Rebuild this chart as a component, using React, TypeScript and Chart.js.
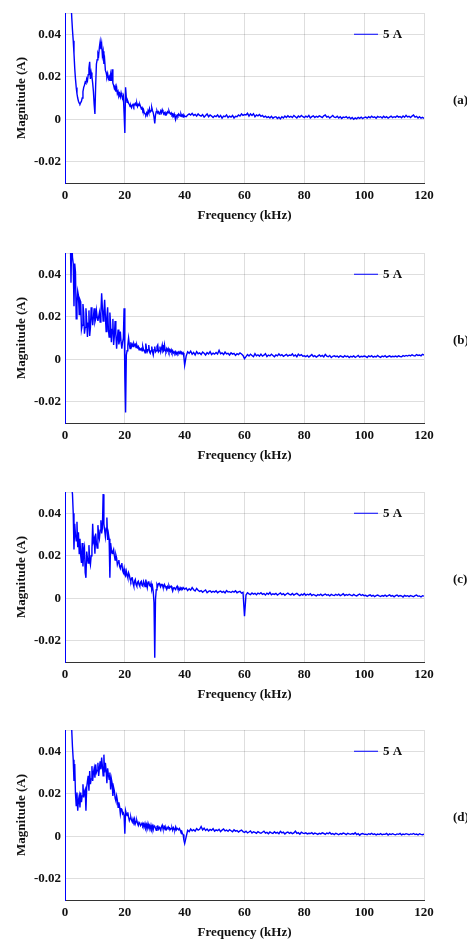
import React, { useEffect, useRef } from "react";
import { Chart, registerables } from "chart.js";

Chart.register(...registerables);

// ---- axis / label data ----
const X_TICKS = [0, 20, 40, 60, 80, 100, 120];
const Y_TICKS = [-0.02, 0, 0.02, 0.04];
const Y_MIN = -0.03;
const Y_MAX = 0.05;
const X_TITLE = "Frequency (kHz)";
const Y_TITLE = "Magnitude (A)";
const SERIES_LABEL = "5 A";
const PANEL_TAGS = ["(a)", "(b)", "(c)", "(d)"];

// FFT bin spacing: 0.25 kHz for 0–40 kHz, 0.5 kHz for 40.5–120 kHz
const HEAD_STEP_KHZ = 0.25;
const TAIL_START_KHZ = 40.5;
const TAIL_STEP_KHZ = 0.5;

// ---- series values, in mA ----
// (a) 0 .. 40 kHz, 0.25 kHz bins (4 per row = 1 kHz)
const A_HEAD = [
  150, 140, 130, 115,
  100, 88, 76, 65,
  56, 48, 42, 37,
  31, 24, 19, 15,
  12, 10, 8.5, 7.6,
  7.2, 7.8, 8.5, 10,
  13, 15, 16, 17.5,
  17, 19, 18, 21,
  24, 27, 19, 22,
  20, 17, 13, 7,
  2.5, 16, 26, 28,
  31, 30, 34, 36.5,
  33, 35.5, 30, 32,
  26, 28, 23, 22,
  20, 21.5, 19, 20,
  18, 21, 18, 23.5,
  17, 16, 14.5, 15.5,
  13, 15, 12, 13,
  11, 12, 10.5, 12.5,
  11, 10, 11, 3,
  -6.5, 15, 10, 8,
  8.5, 7.5, 7, 6,
  6.5, 5.5, 6.5, 7,
  6, 7, 7.5, 6.5,
  7.5, 6, 7, 6.5,
  7, 6, 5, 5.5,
  4, 4.5, 3, 2.5,
  2, 3, 2, 4,
  3, 5, 3.5, 4,
  5.5, 4, 3, 1,
  -2, 2, 3.5, 4,
  3, 3.5, 2.5, 3,
  4, 3, 4.5, 3.5,
  2.5, 3, 2, 3,
  2.5, 3.5, 3, 4,
  3, 2.5, 3, 2,
  2.5, 1.5, 2.5, 1,
  0, 1.5, 2, 1.5,
  2.5, 2, 1.5, 2.5,
  1.5, 2, 1, 2,
  1.5,
];
// (a) 40.5 .. 120 kHz, 0.5 kHz bins (10 per row = 5 kHz)
const A_TAIL = [
  1.2, 2, 2.5, 2, 2.8, 1.8, 2.3, 1.5, 2.5, 1.8,
  1.5, 2.2, 1, 1.8, 2.5, 1.2, 2, 1.5, 0.8, 1.6,
  1.2, 2, 1, 1.8, 0.5, 1.5, 1.2, 2, 0.8, 1.5,
  1, 1.8, 0.6, 1.4, 1.2, 2, 1.5, 2.5, 1.8, 2.2,
  2, 2.8, 1.5, 2.5, 1.8, 2.6, 1.2, 2, 1.6, 2.2,
  1.4, 1.8, 1, 1.5, 0.8, 1.2, 0.6, 1.4, 0.5, 1,
  1.2, 0.4, 1, 0.2, 1.2, 0.6, 1.5, 0.8, 1.6, 1,
  1.4, 0.8, 1.8, 1.2, 0.6, 1.5, 1, 1.8, 1.2, 0.8,
  1.5, 1, 1.8, 0.6, 1.2, 1.6, 0.8, 1.4, 1, 1.6,
  1.2, 0.8, 1.6, 2, 1, 1.4, 0.6, 1.2, 1.8, 1,
  0.8, 1.4, 0.6, 1.2, 0.4, 1, 0.8, 1.2, 0.5, 1,
  0.2, 0.8, 0, 0.6, 0.2, 0.9, 0.4, 1, 0.3, 0.8,
  1, 0.5, 1.2, 0.7, 1.4, 0.8, 1.1, 0.5, 1.3, 0.9,
  1.2, 0.6, 1.4, 0.8, 1.2, 0.5, 1, 1.5, 0.8, 1.2,
  0.9, 1.6, 1, 1.3, 0.7, 1.5, 0.9, 1.8, 1.1, 1.4,
  0.8, 1.5, 2, 1, 1.4, 0.6, 1.2, 0.5, 0.9, 0.4,
];

// (b)
const B_HEAD = [
  150, 140, 130, 115,
  100, 88, 75, 62,
  36, 56, 48, 45,
  25, 45, 41, 19,
  26, 32, 30, 21,
  28, 27, 14, 16,
  26, 22, 12, 15,
  24, 18, 10.5, 17,
  23, 11, 15, 24.5,
  20, 16, 20, 24,
  17.5, 19, 23, 20,
  18, 20, 22, 17.5,
  22, 31, 24, 18,
  22, 28, 20, 13,
  20, 24.5, 14, 10.5,
  22, 16, 8, 14,
  19, 6.7, 11, 18,
  12, 5, 10, 14,
  7, 9, 13, 8,
  5, 8, 10, 24,
  -8, -25, 2, 4,
  6.7, 10, 7, 5,
  8, 6, 7, 6,
  7.4, 6.5, 7, 5.5,
  6.7, 5.5, 6, 4.5,
  5, 4.5, 5, 4,
  6, 4.5, 4.3, 3,
  7.4, 5, 3.6, 4.5,
  6.7, 3.5, 2.8, 4,
  6, 3.5, 2, 4.5,
  6, 3.5, 4, 6,
  6.7, 3.5, 4, 6,
  3.5, 5, 6.7, 3.5,
  4, 6.7, 4, 3.5,
  5, 4, 5, 3.5,
  4.5, 3.6, 4.5, 3.2,
  4, 3, 3.5, 2.8,
  3.6, 2.5, 3.2, 2.6,
  3.4, 2.8, 3.6, 3,
  3.4, 2.6, 3, 1,
  -2.8,
];
const B_TAIL = [
  1.5, 3.5, 2.8, 3.8, 2.4, 3.2, 2, 3.6, 2.6, 3,
  2.2, 3.4, 2.8, 2, 3.1, 2.5, 3.6, 2.2, 2.9, 2.4,
  3.2, 2.5, 4.2, 2.6, 3, 2.2, 3.4, 2.5, 2.8, 2,
  3, 2.4, 2.8, 1.8, 2.6, 2.2, 3, 2.5, 1.8, 0.3,
  1.2, 2.2, 1.5, 2.4, 1.8, 1.2, 2.6, 1.6, 2.1, 1.4,
  2.4, 1.5, 1.9, 2.6, 1.3, 2, 1.6, 2.4, 1.8, 1.2,
  2, 1.6, 2.5, 1.7, 2.2, 1.4, 1.8, 2.3, 1.5, 2,
  1.8, 2.5, 1.5, 2, 1.2, 2.4, 1.7, 2.2, 1.4, 1.6,
  1.2, 1.8, 1, 1.6, 2.2, 1.3, 1.7, 1, 1.5, 2,
  1.4, 1.8, 1.1, 2.3, 1.5, 1.2, 1.8, 0.8, 1.4, 1.6,
  1.2, 1.5, 0.9, 1.6, 1.3, 1, 1.7, 1.2, 1.5, 0.8,
  1.4, 1.1, 1.6, 0.9, 1.3, 1.8, 1, 1.4, 1.2, 1.5,
  1.3, 0.8, 1.6, 1.2, 1.7, 1, 1.4, 1.1, 1.8, 1.2,
  0.9, 1.5, 1.2, 1.7, 1, 1.3, 1.6, 1.1, 1.4, 1.2,
  1.5, 1.1, 1.6, 1.3, 1.2, 1.7, 1.4, 1.8, 1.5, 1.9,
  1.6, 2.1, 1.7, 1.5, 2.2, 1.8, 2, 1.6, 2.3, 2,
];

// (c)
const C_HEAD = [
  150, 140, 130, 118,
  105, 92, 80, 68,
  58, 52, 49, 40,
  23, 35, 30, 27,
  36, 24, 31, 21,
  28, 20, 16.6, 26,
  15, 22, 24, 12,
  9.6, 22, 19, 16.6,
  25, 18, 15.8, 20,
  23, 35, 26.7, 28,
  21, 30.5, 26, 23.6,
  34.4, 30, 28, 32,
  36.7, 30.5, 33, 49,
  35, 32, 29, 33,
  38, 27.4, 30.5, 28,
  9.6, 26, 23, 21,
  22, 23, 20, 18,
  20.5, 19, 15.8, 17,
  18, 15, 14, 15.5,
  16.6, 13, 12, 14,
  11, 10.4, 12.7, 11,
  9.6, 12, 11, 9,
  8, 9.5, 9.6, 7,
  5.7, 8, 8.8, 6.5,
  5.7, 7.5, 8, 6.5,
  5.7, 7.5, 8, 6,
  5.7, 8, 7, 5.5,
  8.8, 7, 5, 7.5,
  8, 6, 5.7, 7,
  4.2, 5.5, 3, -2,
  -28, -0.5, 4, 6.5,
  5.7, 6.8, 7, 6,
  5.5, 6.5, 6.5, 5.2,
  5, 6.5, 5.8, 5,
  4.2, 5.5, 4.8, 6,
  5, 5.5, 5.7, 4.5,
  3.4, 4.8, 5, 4.5,
  4.2, 5.2, 5.7, 4.4,
  4.6, 4, 5, 4.4,
  4.8, 4.2, 5, 4.6,
  4.2,
];
const C_TAIL = [
  4.8, 3.6, 4.5, 3.8, 5, 4, 3.4, 4.6, 3.8, 3.2,
  3.6, 2.8, 3.4, 3.9, 2.6, 3.2, 3.5, 2.8, 3.3, 2.9,
  3.5, 2.6, 3.1, 3.4, 2.8, 3.2, 2.5, 3.6, 2.9, 3.1,
  2.7, 3.3, 2.9, 3.5, 2.6, 3, 3.3, 2.4, 2.8, -8.5,
  1.5, 2.6, 2.1, 1.7, 2.5, 1.9, 2.3, 1.6, 2.4, 2,
  2.6, 1.8, 2.2, 1.5, 2.4, 1.9, 2.7, 1.6, 2.1, 1.8,
  2.3, 1.5, 2, 2.5, 1.7, 2.2, 1.4, 2, 2.4, 1.8,
  1.6, 2.2, 1.5, 1.9, 2.3, 1.7, 1.2, 1.9, 1.5, 2.2,
  1.4, 1.9, 1.6, 2.1, 1.3, 1.8, 1.5, 1.1, 1.7, 1.4,
  1.9, 1.2, 1.6, 2, 1.4, 1.7, 1.1, 1.8, 1.5, 1.3,
  1.8, 1.4, 1.9, 1.2, 1.6, 2.1, 1.3, 1.7, 1.4, 1.9,
  1.5, 1.2, 1.8, 1.4, 1.1, 1.6, 2, 1.3, 1.7, 1.2,
  1.4, 0.9, 1.3, 1.6, 1, 1.4, 0.8, 1.2, 1.5, 1.1,
  0.8, 1.3, 1, 1.5, 0.9, 1.2, 1.6, 1, 1.3, 0.7,
  1.2, 1.5, 0.9, 1.3, 1.1, 0.6, 1.4, 1, 1.2, 0.8,
  1.3, 1, 0.7, 1.2, 1.5, 0.9, 1.1, 0.6, 1.2, 1,
];

// (d)
const D_HEAD = [
  150, 140, 128, 115,
  102, 90, 78, 66,
  56, 50, 42, 36,
  26, 34, 20, 14.4,
  20.6, 12, 17, 19,
  13.6, 20.6, 16, 19,
  24.5, 18.3, 21, 22,
  12, 23, 26, 28.4,
  21.4, 30.7, 24.5, 27,
  33, 26, 30, 32,
  27.6, 33.8, 30, 31,
  34.6, 28.4, 32, 35.3,
  31.5, 37, 33, 28.4,
  38.4, 30, 34.6, 31,
  25, 32, 29, 26.8,
  30, 22, 27, 25,
  19, 23, 21.4, 18,
  16.7, 19, 17, 13.6,
  16, 14, 10.5, 13,
  12.9, 10.5, 11, 9.8,
  1.2, 12, 10.5, 9.8,
  11.3, 9, 7.4, 8.5,
  9, 7.5, 6.7, 8.2,
  7, 8.2, 5.9, 7,
  7.4, 6, 5.1, 6.5,
  6, 5, 5.5, 6.2,
  5, 5.8, 4.5, 6,
  4.3, 5.5, 3.8, 6,
  4.5, 5, 3.5, 5.2,
  3.6, 4.8, 3.2, 5,
  4.5, 3.8, 2.8, 4.6,
  4.8, 3.4, 4.2, 3.5,
  2.8, 4.5, 5.2, 3.6,
  3.6, 4.4, 3, 4.1,
  3.2, 3.8, 4.4, 3.6,
  3.9, 3.2, 3.6, 4,
  2.8, 4, 3.3, 3,
  4.4, 3.1, 3.7, 3.4,
  3, 3.6, 2.8, 2,
  2.4, 1.2, 0.8, -1.9,
  -3.4,
];
const D_TAIL = [
  -0.3, 2.8, 2.2, 3.4, 2.6, 3.1, 2.4, 3.6, 2.9, 3.3,
  4.6, 3, 3.8, 2.7, 3.4, 2.5, 3.2, 2.8, 3.6, 2.4,
  3, 2.6, 3.3, 2.2, 2.9, 3.4, 2.5, 2.9, 2.3, 3.1,
  2.6, 2.1, 3, 2.4, 2.7, 2, 2.5, 2.9, 2.2, 1.8,
  2.4, 1.6, 2, 2.5, 1.5, 2.1, 1.8, 1.4, 2.2, 1.7,
  1.4, 1.9, 2.4, 1.5, 1.8, 1.2, 2, 1.6, 1.3, 2.1,
  1.5, 1.8, 1.2, 2.3, 1.6, 1.9, 1.1, 1.7, 2, 1.4,
  1.8, 1.2, 1.6, 2.4, 1.4, 1.7, 1, 1.9, 1.5, 1.3,
  1.6, 1.1, 1.4, 1.3, 1.7, 1, 1.5, 1.2, 0.9, 1.4,
  1.1, 1.6, 1.3, 0.9, 1.5, 1.2, 1.8, 1, 1.3, 0.8,
  1.4, 1.1, 0.7, 1.3, 1, 1.5, 1.2, 0.8, 1.4, 1.1,
  0.9, 1.3, 1, 1.6, 0.8, 1.2, 0.5, 1.1, 1.3, 0.9,
  1, 0.7, 1.2, 0.9, 1.4, 0.8, 1.1, 0.6, 1, 0.8,
  1.2, 0.7, 1, 0.9, 1.3, 0.6, 1.1, 0.8, 1.2, 0.9,
  0.7, 1.1, 0.9, 1.3, 0.6, 1, 0.8, 1.2, 1, 0.7,
  1.1, 0.9, 1.3, 0.8, 1, 0.6, 1.2, 0.9, 0.7, 1,
];

const PANELS = [
  { tag: PANEL_TAGS[0], head: A_HEAD, tail: A_TAIL, top: 0 },
  { tag: PANEL_TAGS[1], head: B_HEAD, tail: B_TAIL, top: 240 },
  { tag: PANEL_TAGS[2], head: C_HEAD, tail: C_TAIL, top: 479 },
  { tag: PANEL_TAGS[3], head: D_HEAD, tail: D_TAIL, top: 717 },
];

// ---- styles ----
const W = 467;
const H = 225;
const FONT_FAMILY = '"Liberation Serif", "Times New Roman", serif';
const FONT = { family: FONT_FAMILY, size: 13, weight: "bold" as const };
const TEXT_COLOR = "#111111";
const GRID_COLOR = "rgba(0,0,0,0.13)";
const LINE_COLOR = "#0000ff";

const overlayPlugin = {
  id: "overlay",
  afterDraw(chart: any, _args: any, opts: any) {
    const { ctx, chartArea, scales } = chart;
    const ds = chart.data.datasets[0];
    const y = scales.y.getPixelForValue(Y_TICKS[Y_TICKS.length - 1]);
    ctx.save();
    ctx.strokeStyle = ds.borderColor;
    ctx.lineWidth = 1;
    ctx.beginPath();
    ctx.moveTo(chartArea.right - 70, y);
    ctx.lineTo(chartArea.right - 46, y);
    ctx.stroke();
    ctx.font = `bold 13px ${FONT_FAMILY}`;
    ctx.fillStyle = TEXT_COLOR;
    ctx.textAlign = "left";
    ctx.textBaseline = "middle";
    ctx.fillText(ds.label, chartArea.right - 41, y);
    ctx.fillText(opts.tag, 453, chartArea.top + 88);
    ctx.restore();
  },
};

function Panel({ tag, head, tail, top }: { tag: string; head: number[]; tail: number[]; top: number }) {
  const ref = useRef<HTMLCanvasElement>(null);
  useEffect(() => {
    if (!ref.current) return;
    const points = [
      ...head.map((v, i) => ({ x: i * HEAD_STEP_KHZ, y: v / 1000 })),
      ...tail.map((v, i) => ({ x: TAIL_START_KHZ + i * TAIL_STEP_KHZ, y: v / 1000 })),
    ];
    const chart = new Chart(ref.current, {
      type: "line",
      data: {
        datasets: [
          {
            label: SERIES_LABEL,
            data: points,
            borderColor: LINE_COLOR,
            borderWidth: 1.4,
            pointRadius: 0,
            tension: 0,
            fill: false,
          },
        ],
      },
      options: {
        responsive: false,
        animation: false,
        devicePixelRatio: 1,
        layout: { padding: { top: 13, left: 0, right: 43, bottom: 0 } },
        plugins: {
          legend: { display: false },
          tooltip: { enabled: false },
          overlay: { tag },
        } as any,
        scales: {
          x: {
            type: "linear",
            min: X_TICKS[0],
            max: X_TICKS[X_TICKS.length - 1],
            afterBuildTicks: (s: any) => {
              s.ticks = X_TICKS.map((v) => ({ value: v }));
            },
            afterFit: (s: any) => {
              s.height = 42;
            },
            ticks: { autoSkip: false, maxRotation: 0, padding: 5, color: TEXT_COLOR, font: FONT },
            grid: { color: GRID_COLOR, drawTicks: false },
            border: { color: "#333333", width: 1 },
            title: {
              display: true,
              text: X_TITLE,
              color: TEXT_COLOR,
              font: FONT,
              padding: { top: 0, bottom: 2 },
            },
          },
          y: {
            type: "linear",
            min: Y_MIN,
            max: Y_MAX,
            afterBuildTicks: (s: any) => {
              s.ticks = [...Y_TICKS, Y_MAX].map((v) => ({ value: v }));
            },
            afterFit: (s: any) => {
              s.width = 65;
            },
            ticks: {
              autoSkip: false,
              padding: 4,
              color: TEXT_COLOR,
              font: FONT,
              callback: (v: any) => (v === Y_MAX ? "" : v === 0 ? "0" : Number(v).toFixed(2)),
            },
            grid: { color: GRID_COLOR, drawTicks: false },
            border: { color: LINE_COLOR, width: 1 },
            title: {
              display: true,
              text: Y_TITLE,
              color: TEXT_COLOR,
              font: FONT,
              padding: { top: 14, bottom: 0 },
            },
          },
        },
      },
      plugins: [overlayPlugin],
    } as any);
    return () => chart.destroy();
  }, []);
  return (
    <canvas
      ref={ref}
      width={W}
      height={H}
      style={{ position: "absolute", left: 0, top, width: W, height: H, display: "block" }}
    />
  );
}

export default function App() {
  return (
    <div style={{ position: "absolute", left: 0, top: 0, width: W, height: 940, background: "#ffffff" }}>
      {PANELS.map((p) => (
        <Panel key={p.tag} tag={p.tag} head={p.head} tail={p.tail} top={p.top} />
      ))}
    </div>
  );
}
